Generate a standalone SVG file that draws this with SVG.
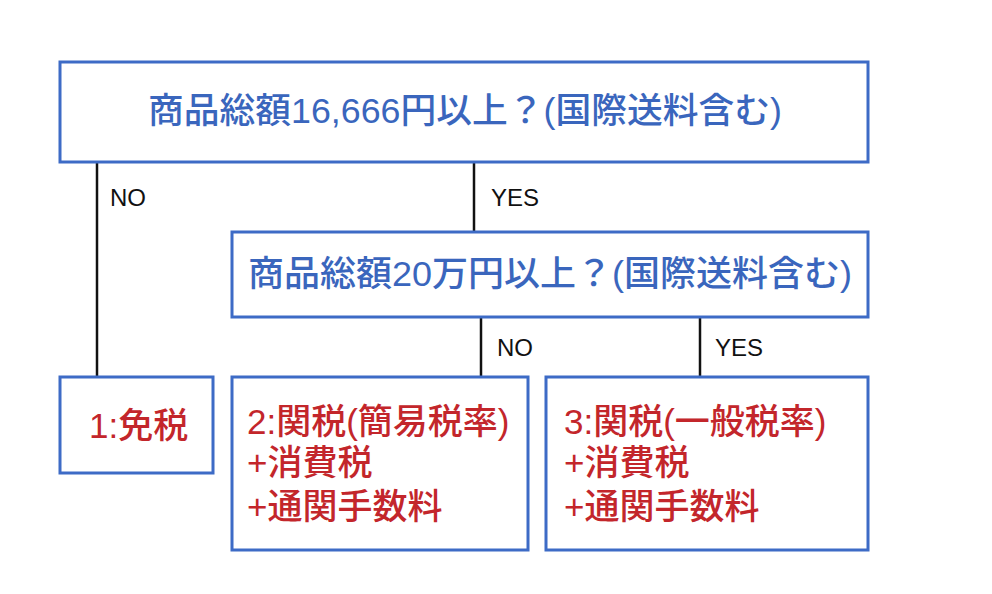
<svg xmlns="http://www.w3.org/2000/svg" width="992" height="594" viewBox="0 0 992 594">
<style>
.box{fill:#fff;stroke:#3d6bc6;stroke-width:3}
.q{font-family:"Liberation Sans","Noto Sans CJK JP",sans-serif;font-size:35px;font-weight:500;fill:#3a66bd}
.r{font-family:"Liberation Sans","Noto Sans CJK JP",sans-serif;font-size:35px;font-weight:500;fill:#c3262b}
.lbl{font-family:"Liberation Sans","Noto Sans CJK JP",sans-serif;font-size:24px;fill:#111}
.ln{stroke:#111;stroke-width:2.5;fill:none}
</style>
<rect width="992" height="594" fill="#fff"/>
<g id="connectors">
<line class="ln" x1="97" y1="162" x2="97" y2="377"/>
<line class="ln" x1="474" y1="162" x2="474" y2="232"/>
<line class="ln" x1="481" y1="317" x2="481" y2="377"/>
<line class="ln" x1="700" y1="317" x2="700" y2="377"/>
<text class="lbl" x="110" y="206">NO</text>
<text class="lbl" x="491" y="206">YES</text>
<text class="lbl" x="497" y="356">NO</text>
<text class="lbl" x="715" y="356">YES</text>
</g>
<g id="q1">
<rect class="box" x="60" y="62" width="808" height="100"/>
<text class="q" x="465" y="123" text-anchor="middle" textLength="634" lengthAdjust="spacingAndGlyphs">商品総額16,666円以上？(国際送料含む)</text>
</g>
<g id="q2">
<rect class="box" x="232" y="232" width="636" height="85"/>
<text class="q" x="550" y="286" text-anchor="middle" textLength="604" lengthAdjust="spacingAndGlyphs">商品総額20万円以上？(国際送料含む)</text>
</g>
<g id="r1">
<rect class="box" x="60" y="377" width="153" height="96"/>
<text class="r" x="89" y="438">1:免税</text>
</g>
<g id="r2">
<rect class="box" x="232" y="377" width="296" height="173"/>
<text class="r" x="247" y="434">2:関税(簡易税率)</text>
<text class="r" x="247" y="475">+消費税</text>
<text class="r" x="247" y="519">+通関手数料</text>
</g>
<g id="r3">
<rect class="box" x="546" y="377" width="322" height="173"/>
<text class="r" x="564" y="434">3:関税(一般税率)</text>
<text class="r" x="564" y="475">+消費税</text>
<text class="r" x="564" y="519">+通関手数料</text>
</g>
</svg>
